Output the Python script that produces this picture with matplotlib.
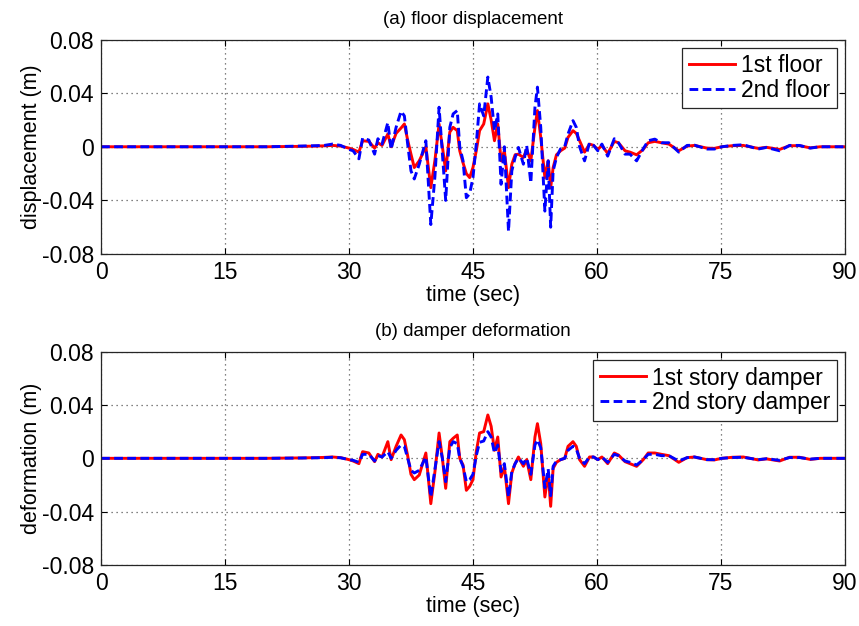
import numpy as np
import matplotlib.pyplot as plt

plt.rcParams['font.family'] = ['Liberation Sans', 'DejaVu Sans']

# time breakpoints (sec)
t = [0, 5, 10, 15, 20, 24, 26, 27, 28, 29,
     30, 30.5, 31.2, 31.65, 32.4, 33.1, 33.5, 34.0, 34.7, 35.1,
     35.7, 36.3, 36.7, 37.1, 37.5, 37.9, 38.5, 39.3, 39.9, 40.4,
     40.9, 41.3, 41.7, 42.2, 42.6, 43.1, 43.4, 43.8, 44.2, 44.6,
     45.0, 45.4, 45.8, 46.3, 46.8, 47.2, 47.6, 48.0, 48.4, 48.8,
     49.3, 49.7, 50.1, 50.5, 51.1, 51.5, 52.0, 52.5, 52.8, 53.2,
     53.7, 54.1, 54.4, 54.7, 55.1, 55.6, 56.1, 56.5, 57.1, 57.5,
     57.9, 58.5, 59.1, 59.6, 60.1, 60.6, 61.3, 62.1, 62.6, 63.4,
     64.0, 64.8, 65.6, 66.2, 67.0, 67.8, 68.7, 69.9, 70.9, 71.8,
     73.3, 74.2, 75.1, 76.4, 77.7, 79.5, 80.5, 82.1, 83.3, 84.5,
     85.8, 87.0, 88.5, 90]

# (a) floor displacement (m)
floor1 = [0, 0, 0, 0, 0, 0.0003, 0.0005, 0.0007, 0.001, 0.0005,
          -0.001, -0.002, -0.004, 0.0045, 0.004, -0.001, 0.003, 0.001, 0.0095, 0.0,
          0.010, 0.014, 0.017, 0.005, -0.0055, -0.0155, -0.0105, 0.0, -0.0305, -0.010,
          0.017, 0.0, -0.018, 0.011, 0.0145, 0.012, -0.003, -0.012, -0.020, -0.023,
          -0.0155, -0.003, 0.012, 0.017, 0.032, 0.020, 0.0045, 0.017, -0.0105, -0.003,
          -0.0305, -0.013, -0.006, -0.0055, -0.008, -0.002, -0.0105, 0.0145, 0.027, 0.007,
          -0.023, -0.0105, -0.0305, -0.0155, -0.006, -0.003, -0.001, 0.007, 0.012, 0.010,
          0.0045, -0.004, 0.002, 0.001, -0.002, 0.001, -0.005, 0.004, 0.003, -0.003,
          -0.004, -0.006, -0.002, 0.003, 0.004, 0.003, 0.002, -0.003, 0.0005, 0.001,
          -0.001, -0.0012, 0.0, 0.0008, 0.001, -0.0012, -0.0004, -0.002, 0.0008, 0.0008,
          -0.0008, 0.0, 0.0, 0.0]
floor2 = [0, 0, 0, 0, 0, 0.0005, 0.0008, 0.001, 0.002, 0.001,
          -0.002, -0.003, -0.009, 0.0065, 0.005, -0.0055, 0.006, 0.002, 0.018, -0.002,
          0.0145, 0.0265, 0.023, 0.002, -0.018, -0.024, -0.013, 0.0045, -0.058, -0.022,
          0.0295, -0.005, -0.040, 0.0145, 0.0245, 0.027, 0.0, -0.0105, -0.038, -0.035,
          -0.023, 0.002, 0.032, 0.023, 0.052, 0.037, 0.012, 0.0245, -0.028, 0.0,
          -0.063, -0.018, -0.008, -0.0005, -0.013, 0.001, -0.027, 0.0295, 0.0445, 0.0145,
          -0.048, -0.0105, -0.060, -0.018, -0.008, -0.0015, 0.0, 0.0095, 0.0195, 0.0145,
          0.0, -0.0105, 0.003, 0.001, -0.003, 0.002, -0.007, 0.006, 0.003, -0.0055,
          -0.0055, -0.0105, -0.0015, 0.0045, 0.0057, 0.003, 0.003, -0.004, 0.001, 0.0012,
          -0.0017, -0.0017, 0.0, 0.001, 0.0015, -0.0017, -0.0005, -0.003, 0.001, 0.001,
          -0.001, 0.0, 0.0, 0.0]

# (b) damper deformation (m)
damper1 = [0, 0, 0, 0, 0, 0.0003, 0.0005, 0.0007, 0.001, 0.0005,
           -0.001, -0.002, -0.004, 0.005, 0.004, -0.0025, 0.003, 0.001, 0.0125, -0.001,
           0.009, 0.0175, 0.014, 0.002, -0.012, -0.016, -0.0125, 0.004, -0.034, -0.010,
           0.019, 0.0, -0.0225, 0.0125, 0.015, 0.0175, 0.0, -0.005, -0.024, -0.021,
           -0.016, 0.005, 0.019, 0.020, 0.0325, 0.024, 0.006, 0.016, -0.014, -0.006,
           -0.034, -0.011, -0.004, 0.001, -0.006, -0.001, -0.016, 0.016, 0.026, 0.011,
           -0.029, -0.011, -0.036, -0.0075, -0.003, -0.001, 0.0, 0.009, 0.0125, 0.009,
           -0.001, -0.006, 0.001, 0.001, -0.001, 0.001, -0.004, 0.004, 0.0025, -0.0025,
           -0.004, -0.006, -0.001, 0.004, 0.004, 0.003, 0.002, -0.003, 0.0005, 0.001,
           -0.001, -0.0012, 0.0, 0.0008, 0.001, -0.0012, -0.0004, -0.002, 0.0008, 0.0008,
           -0.0008, 0.0, 0.0, 0.0]
damper2 = [0, 0, 0, 0, 0, 0.0002, 0.0004, 0.0005, 0.0008, 0.0004,
           -0.001, -0.0015, -0.003, 0.003, 0.003, -0.002, 0.002, 0.001, 0.005, 0.0,
           0.006, 0.010, 0.009, 0.0, -0.009, -0.011, -0.009, 0.001, -0.029, -0.008,
           0.0125, 0.0, -0.0175, 0.008, 0.0125, 0.011, 0.0, -0.006, -0.0175, -0.016,
           -0.012, 0.002, 0.012, 0.013, 0.020, 0.016, 0.004, 0.010, -0.010, -0.004,
           -0.029, -0.010, -0.004, 0.0, -0.004, 0.0, -0.012, 0.010, 0.014, 0.008,
           -0.022, -0.008, -0.028, -0.006, -0.002, -0.001, 0.0, 0.006, 0.009, 0.007,
           0.0, -0.004, 0.001, 0.001, -0.001, 0.001, -0.003, 0.003, 0.002, -0.002,
           -0.003, -0.005, -0.001, 0.003, 0.003, 0.002, 0.002, -0.002, 0.0005, 0.001,
           -0.001, -0.001, 0.0, 0.0006, 0.0008, -0.001, -0.0003, -0.0015, 0.0006, 0.0006,
           -0.0006, 0.0, 0.0, 0.0]

xticks = [0, 15, 30, 45, 60, 75, 90]
yticks = [-0.08, -0.04, 0, 0.04, 0.08]
ytick_labels = ['-0.08', '-0.04', '0', '0.04', '0.08']


def format_axes(ax, ylabel, title):
    ax.set_xlim(0, 90)
    ax.set_ylim(-0.08, 0.08)
    ax.set_xticks(xticks)
    ax.set_yticks(yticks)
    ax.set_yticklabels(ytick_labels)
    ax.tick_params(direction='in', length=4, labelsize=16.5, top=True, right=True, pad=5)
    ax.grid(True, color='0.35', linestyle=(0, (1, 3)), linewidth=0.9)
    for s in ax.spines.values():
        s.set_linewidth(0.9)
        s.set_color('0.15')
    ax.set_xlabel('time (sec)', fontsize=15.5, labelpad=1)
    ax.set_ylabel(ylabel, fontsize=15.5, labelpad=0)
    ax.set_title(title, fontsize=13.5, pad=11)


fig = plt.figure(figsize=(8.59, 6.26), dpi=100)
ax1 = fig.add_axes([0.1176, 0.5942, 0.866, 0.3427])
ax2 = fig.add_axes([0.1176, 0.0974, 0.866, 0.3409])

ax1.plot(t, floor1, color='red', linewidth=2.1, label='1st floor')
ax1.plot(t, floor2, color='blue', linewidth=2.1, dashes=(3.0, 1.5), label='2nd floor')
format_axes(ax1, 'displacement (m)', '(a) floor displacement')

ax2.plot(t, damper1, color='red', linewidth=2.1, label='1st story damper')
ax2.plot(t, damper2, color='blue', linewidth=2.1, dashes=(3.0, 1.5), label='2nd story damper')
format_axes(ax2, 'deformation (m)', '(b) damper deformation')

for ax in (ax1, ax2):
    leg = ax.legend(loc='upper right', fontsize=16.5, fancybox=False, framealpha=1,
                    edgecolor='0.15', handlelength=2.0, labelspacing=0.05,
                    borderpad=0.3, handletextpad=0.25, borderaxespad=0.35)
    leg.get_frame().set_linewidth(0.9)

fig.savefig('out.png', dpi=100)
